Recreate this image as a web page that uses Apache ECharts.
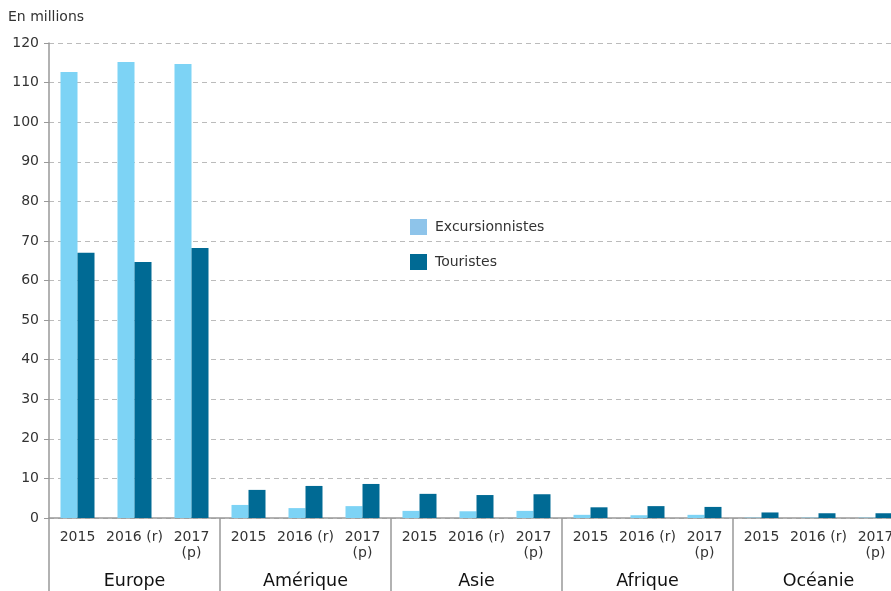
<!DOCTYPE html>
<html>
<head>
<meta charset="utf-8">
<script src="https://cdn.jsdelivr.net/npm/echarts@6/dist/echarts.min.js"></script>
<style>
  html, body { margin: 0; padding: 0; background: #fff; }
  #chart { width: 891px; height: 591px; }
</style>
</head>
<body>
<div id="chart"></div>
<script>
// données
const continents = ['Europe', 'Amérique', 'Asie', 'Afrique', 'Océanie'];
const years = ['2015', '2016 (r)', '2017\n(p)'];
const excursionnistes = [112.7, 115.2, 114.7, 3.3, 2.5, 3.0, 1.8, 1.7, 1.8, 0.8, 0.7, 0.8, 0.1, 0.1, 0.1];
const touristes = [67.0, 64.7, 68.2, 7.1, 8.1, 8.6, 6.1, 5.8, 6.0, 2.7, 3.0, 2.8, 1.4, 1.2, 1.2];

const yearCats = [];
continents.forEach(() => years.forEach(y => yearCats.push(y)));

const font = 'DejaVu Sans';
const myChart = echarts.init(document.getElementById('chart'));

const option = {
  animation: false,
  textStyle: { fontFamily: font },
  grid: { left: 49, top: 43, bottom: 73, right: -13, outerBoundsMode: 'none', containLabel: false },
  graphic: [{
    type: 'text', left: 8, top: 10,
    style: { text: 'En millions', fontSize: 14, fill: '#333', fontFamily: font }
  }],
  legend: {
    orient: 'vertical',
    left: 410, top: 219,
    padding: 0,
    itemWidth: 17, itemHeight: 16, itemGap: 19,
    icon: 'rect',
    textStyle: { fontSize: 14, color: '#333', padding: [0, 0, 0, 3] },
    data: [
      { name: 'Excursionnistes', itemStyle: { color: '#8ec4ea' } },
      { name: 'Touristes', itemStyle: { color: '#006a94' } }
    ]
  },
  xAxis: [
    {
      type: 'category',
      data: yearCats,
      position: 'bottom',
      axisLine: { lineStyle: { color: '#999', width: 1.5 } },
      axisTick: { show: false },
      axisLabel: { interval: 0, margin: 11, fontSize: 14, color: '#333', lineHeight: 16 }
    },
    {
      type: 'category',
      data: continents,
      position: 'bottom',
      axisLine: { show: false },
      axisTick: { show: true, interval: 0, length: 73, lineStyle: { color: '#999', width: 1.5 } },
      axisLabel: { interval: 0, margin: 54, fontSize: 17.5, color: '#111' }
    }
  ],
  yAxis: {
    type: 'value',
    min: 0, max: 120, interval: 10,
    axisLine: { show: true, lineStyle: { color: '#999', width: 1.5 } },
    axisTick: { show: true, length: 5, lineStyle: { color: '#999' } },
    axisLabel: { fontSize: 14, color: '#333', margin: 10 },
    splitLine: { lineStyle: { type: [5, 4], color: '#bbb' } }
  },
  series: [
    {
      name: 'Excursionnistes',
      type: 'bar',
      data: excursionnistes,
      barWidth: 17,
      barGap: '0%',
      itemStyle: { color: '#7dd3f5' }
    },
    {
      name: 'Touristes',
      type: 'bar',
      data: touristes,
      barWidth: 17,
      barGap: '0%',
      itemStyle: { color: '#006a94' }
    }
  ]
};

myChart.setOption(option);
</script>
</body>
</html>
